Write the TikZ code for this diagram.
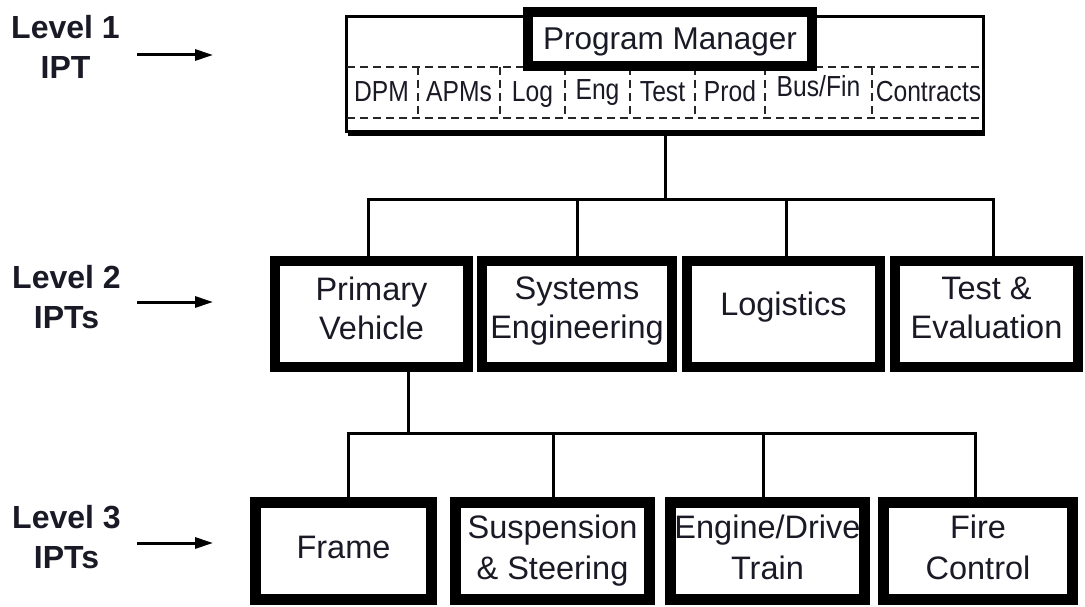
\documentclass[tikz,border=0pt]{standalone}
\usepackage{fontspec}
\setmainfont{Liberation Sans}
\newfontfamily\narrowfont{Liberation Sans}[FakeStretch=0.85]
\usetikzlibrary{arrows.meta,shadows}

\definecolor{ink}{RGB}{26,26,38}

\begin{document}
\begin{tikzpicture}[x=1pt,y=-1pt,
  conn/.style={draw=black, line width=3pt, line cap=rect},
  levelarrow/.style={draw=black, line width=3pt, -{Triangle[length=18pt,width=11pt]}},
  levellabel/.style={align=center, text=ink, inner sep=0pt, text depth=0pt,
    font=\fontsize{32}{40}\selectfont\bfseries},
  teambox/.style={draw=black, fill=white, inner sep=0pt, align=center, text=ink},
  lvltwo/.style={teambox, line width=10pt, minimum height=106pt, text depth=12pt,
    font=\fontsize{32.5}{39}\selectfont},
  lvlthree/.style={teambox, line width=11pt, minimum height=97pt, text depth=8pt,
    font=\fontsize{32.5}{41}\selectfont},
  seat/.style={anchor=base, inner sep=0pt, text=ink, font=\fontsize{29}{30}\selectfont\narrowfont},
  seatline/.style={draw=black!85, line width=1.6pt, dash pattern=on 8pt off 5pt}
]
\useasboundingbox (0,0) rectangle (1085,607);

% ---- level labels with their arrows ----
\node[levellabel] (lab1) at (65.5,46.5) {Level 1\\IPT};
\node[levellabel] (lab2) at (66.5,296.5) {Level 2\\IPTs};
\node[levellabel] (lab3) at (66.5,536.5) {Level 3\\IPTs};
\coordinate (a1s) at (137,55);  \coordinate (a1e) at (213,55);
\coordinate (a2s) at (137,302); \coordinate (a2e) at (213,302);
\coordinate (a3s) at (137,543); \coordinate (a3e) at (213,543);
\draw[levelarrow] (a1s) -- (a1e);
\draw[levelarrow] (a2s) -- (a2e);
\draw[levelarrow] (a3s) -- (a3e);

% ---- level 1 team ----
\node[draw=black, fill=white, line width=3pt, inner sep=0pt,
      minimum width=637pt, minimum height=115pt,
      drop shadow={shadow xshift=1.5pt, shadow yshift=-5pt, fill=black, opacity=1}]
      (team) at (665,74) {};

% dashed row of functional seats
\draw[seatline] (347,67) -- (982,67);
\draw[seatline] (347,118) -- (982,118);
\foreach \sx in {418,500,565,630,695,765,872}
  \draw[seatline] (\sx,67) -- (\sx,118);

\node[seat] (dpm)  at (381.5,102) {DPM};
\node[seat] (apm)  at (459,102)   {APMs};
\node[seat] (log)  at (532.5,102) {Log};
\node[seat] (eng)  at (597.5,100) {Eng};
\node[seat] (tst)  at (662.5,102) {Test};
\node[seat] (prod) at (730,102)   {Prod};
\node[seat] (bus)  at (818.5,97)  {Bus/Fin};
\node[seat] (con)  at (928.5,102) {Contracts};

\node[teambox, line width=10pt, minimum width=284pt, minimum height=54pt,
      text depth=0pt, font=\fontsize{31.5}{36}\selectfont] (pm) at (670,39) {Program Manager};

% ---- level 2 teams ----
\node[lvltwo, minimum width=193pt] (prim) at (371.5,314) {Primary\\Vehicle};
\node[lvltwo, minimum width=190pt] (sys)  at (577,314)   {Systems\\Engineering};
\node[lvltwo, minimum width=193pt, text depth=20pt] (logi) at (783.5,314) {Logistics};
\node[lvltwo, minimum width=183pt] (te)   at (986.5,314) {Test \&\\Evaluation};

% ---- level 3 teams ----
\node[lvlthree, minimum width=176pt] (frame) at (343.5,551) {Frame};
\node[lvlthree, minimum width=194pt] (susp)  at (552.5,551) {Suspension\\\& Steering};
\node[lvlthree, minimum width=194pt] (drive) at (767.5,551) {Engine/Drive\\Train};
\node[lvlthree, minimum width=189pt] (fire)  at (978,551)   {Fire\\Control};

% ---- connectors, level 1 to level 2 ----
\coordinate (j2)  at (665,200);
\coordinate (d2a) at (368,200);
\coordinate (d2b) at (577,200);
\coordinate (d2c) at (786,200);
\coordinate (d2d) at (993,200);
\draw[conn] (team.south) -- (j2);
\draw[conn] (d2a) -- (d2d);
\draw[conn] (d2a) -- (d2a |- prim.north);
\draw[conn] (d2b) -- (d2b |- sys.north);
\draw[conn] (d2c) -- (d2c |- logi.north);
\draw[conn] (d2d) -- (d2d |- te.north);

% ---- connectors, primary vehicle to level 3 ----
\coordinate (j3)  at (408,433);
\coordinate (d3a) at (348,433);
\coordinate (d3b) at (553,433);
\coordinate (d3c) at (763,433);
\coordinate (d3d) at (975,433);
\draw[conn] (j3 |- prim.south) -- (j3);
\draw[conn] (d3a) -- (d3d);
\draw[conn] (d3a) -- (d3a |- frame.north);
\draw[conn] (d3b) -- (d3b |- susp.north);
\draw[conn] (d3c) -- (d3c |- drive.north);
\draw[conn] (d3d) -- (d3d |- fire.north);
\end{tikzpicture}
\end{document}
